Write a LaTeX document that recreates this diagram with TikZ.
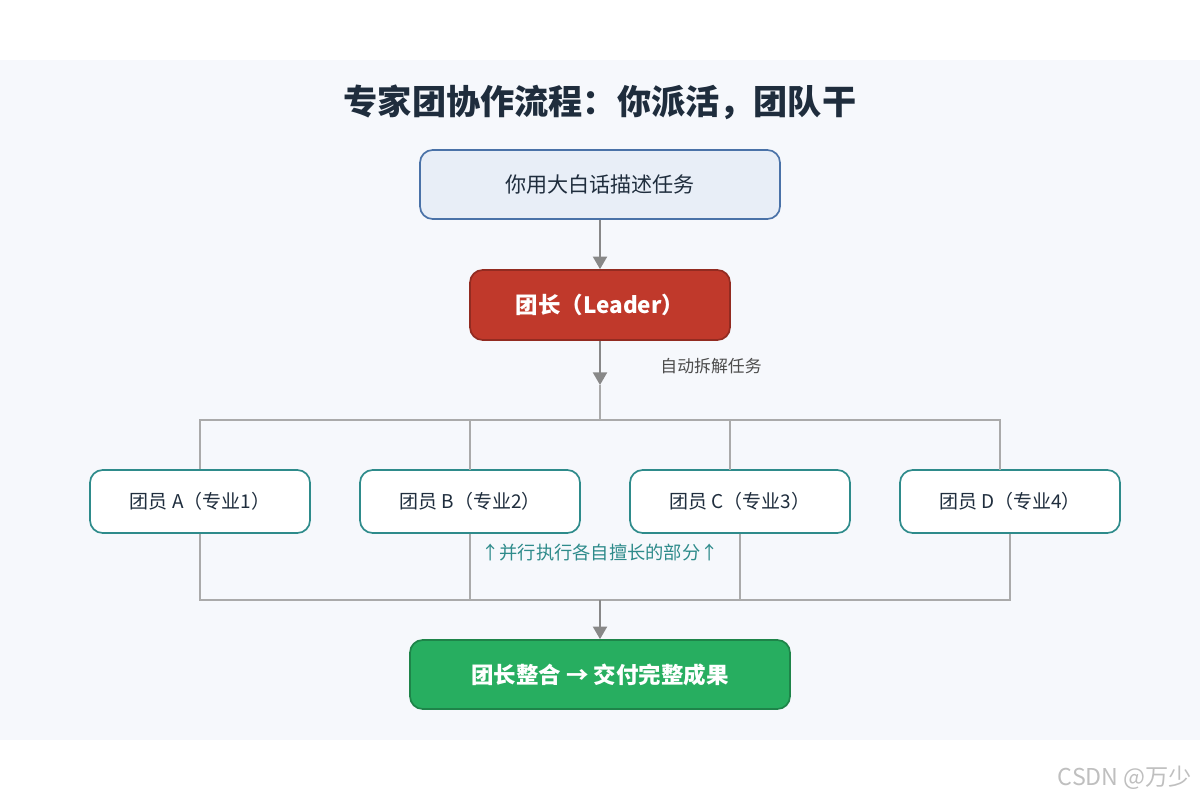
\documentclass[tikz,border=0pt]{standalone}
\usepackage{fontspec}
\setmainfont{Noto Sans CJK SC}
\usetikzlibrary{arrows.meta}
\definecolor{bg}{HTML}{F6F8FC}
\definecolor{ttl}{HTML}{1F2D3D}
\definecolor{bluef}{HTML}{E8EEF7}
\definecolor{blueb}{HTML}{4A72A8}
\definecolor{redf}{HTML}{C0392B}
\definecolor{redb}{HTML}{922B21}
\definecolor{teal}{HTML}{2E8B8B}
\definecolor{greenf}{HTML}{27AE60}
\definecolor{greenb}{HTML}{1E8449}
\definecolor{ln}{HTML}{AAAAAA}
\definecolor{ar}{HTML}{888888}
\begin{document}
\begin{tikzpicture}[x=0.025cm,y=-0.025cm,
 box/.style={draw,rounded corners=9pt,line width=1.2pt,inner sep=0},
 conn/.style={draw=ln,line width=1.2pt},
 arr/.style={draw=ar,line width=1.5pt,-{Triangle[length=9pt,width=10pt]}},
 mem/.style={box,draw=teal,fill=white,minimum width=220*0.025cm,minimum height=63*0.025cm,font=\fontsize{13.5}{16}\selectfont,text=ttl}]
\useasboundingbox (0,0) rectangle (1200,800);
\fill[bg] (0,60) rectangle (1200,740);
\node[font=\fontsize{24.3}{29}\selectfont\bfseries,text=ttl] (title) at (600,102) {专家团协作流程：你派活，团队干};
\node[box,draw=blueb,fill=bluef,minimum width=360*0.025cm,minimum height=69*0.025cm,font=\fontsize{15}{18}\selectfont,text=ttl] (user) at (600,184.5) {你用大白话描述任务};
\node[box,draw=redb,fill=redf,minimum width=260*0.025cm,minimum height=70*0.025cm,font=\fontsize{16}{19}\selectfont\bfseries,text=white] (lead) at (600,305) {团长（Leader）};
\draw[arr] (user) -- (lead);
\coordinate (sp) at (600,385);
\coordinate (j) at (600,420);
\draw[arr] (lead.south) -- (sp);
\node[font=\fontsize{12}{14}\selectfont,text=black!70] (lab) at (711,366) {自动拆解任务};
\node[mem] (a) at (200,501.5) {团员 A（专业1）};
\node[mem] (b) at (470,501.5) {团员 B（专业2）};
\node[mem] (c) at (740,501.5) {团员 C（专业3）};
\node[mem] (d) at (1010,501.5) {团员 D（专业4）};
\draw[conn] (sp) -- (j);
\draw[conn] (a.north -| 200,0) |- (1000,420) -- (1000,470);
\draw[conn] (470,420) -- (470,470);
\draw[conn] (730,420) -- (730,470);
\coordinate (m) at (600,600);
\draw[conn] (a.south) |- (d.south |- m) -- (d.south);
\draw[conn] (b.south) -- (470,600);
\draw[conn] (c.south) -- (740,600);
\node[font=\fontsize{13}{16}\selectfont,text=teal] (par) at (600,553) {↑并行执行各自擅长的部分↑};
\node[box,draw=greenb,fill=greenf,minimum width=380*0.025cm,minimum height=69*0.025cm,font=\fontsize{16}{19}\selectfont\bfseries,text=white] (fin) at (600,674.5) {团长整合 → 交付完整成果};
\draw[arr] (m) -- (fin.north);
\node[font=\fontsize{16.5}{19}\selectfont,text=black!25] (wm) at (1125,778) {CSDN @万少};
\end{tikzpicture}
\end{document}
